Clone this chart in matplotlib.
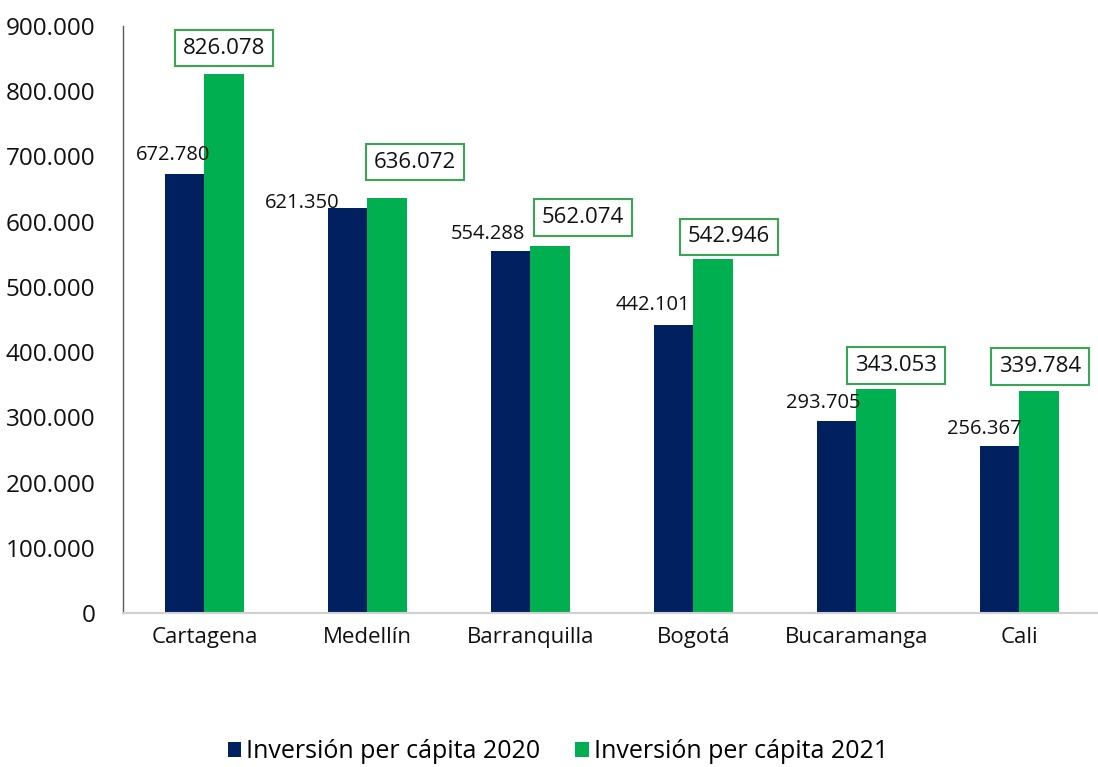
import matplotlib
matplotlib.use("Agg")
import matplotlib.pyplot as plt
import numpy as np

plt.rcParams['font.family'] = ['Open Sans', 'DejaVu Sans']

cities = ["Cartagena", "Medellín", "Barranquilla", "Bogotá", "Bucaramanga", "Cali"]
inv_2020 = [672780, 621350, 554288, 442101, 293705, 256367]
inv_2021 = [826078, 636072, 562074, 542946, 343053, 339784]
labels_2020 = ["672.780", "621.350", "554.288", "442.101", "293.705", "256.367"]
labels_2021 = ["826.078", "636.072", "562.074", "542.946", "343.053", "339.784"]
yticks = [0, 100000, 200000, 300000, 400000, 500000, 600000, 700000, 800000, 900000]
ytick_labels = ["0", "100.000", "200.000", "300.000", "400.000", "500.000",
                "600.000", "700.000", "800.000", "900.000"]

# label offsets (pixels) relative to bar top centre
off_2020 = [(-12, 19), (-46, 5), (-23, 17), (-21, 20), (-14, 18), (-16, 17)]
off_2021 = [(0, 26), (28, 36), (33, 29), (16, 22), (20, 24), (1, 25)]

NAVY = "#002060"
GREEN = "#00B050"

fig = plt.figure(figsize=(10.98, 7.67), dpi=100)
ax = fig.add_axes([123/1098, 1-613/767, 978/1098, (613-26)/767])

x = np.arange(len(cities))
w = 0.24
b1 = ax.bar(x - w/2, inv_2020, w, color=NAVY, label="Inversión per cápita 2020")
b2 = ax.bar(x + w/2, inv_2021, w, color=GREEN, label="Inversión per cápita 2021")

px = 72 / 100
for i in range(len(cities)):
    dx, dy = off_2020[i]
    ax.annotate(labels_2020[i], (x[i] - w/2, inv_2020[i]), xytext=(dx*px, dy*px),
                textcoords="offset points", ha="center", va="center",
                fontsize=14.5, color="#111111")
    dx, dy = off_2021[i]
    ax.annotate(labels_2021[i], (x[i] + w/2, inv_2021[i]), xytext=(dx*px, dy*px),
                textcoords="offset points", ha="center", va="center",
                fontsize=16, color="#111111",
                bbox=dict(boxstyle="square,pad=0.35", fc="white", ec="#3aa552", lw=1.5))

ax.set_xlim(-0.5, len(cities) - 0.5)
ax.set_ylim(0, 900000)
ax.set_yticks(yticks)
ax.set_yticklabels(ytick_labels, fontsize=17.5, color="#111111")
ax.set_xticks(x)
ax.set_xticklabels(cities, fontsize=16, color="#111111")
ax.tick_params(axis="both", length=0, pad=10)
ax.tick_params(axis="y", pad=20)
for s in ["top", "right"]:
    ax.spines[s].set_visible(False)
ax.spines["left"].set_color("#595959")
ax.spines["left"].set_linewidth(1.0)
ax.spines["bottom"].set_color("#d0d0d0")
ax.spines["bottom"].set_linewidth(1.5)

fig.legend(handles=[b1, b2], loc="center", bbox_to_anchor=(558/1098, 1-752/767),
           ncol=2, frameon=False, fontsize=18, handlelength=0.55, handleheight=0.55,
           handletextpad=0.2, columnspacing=1.4)

fig.savefig("out.png", dpi=100)
